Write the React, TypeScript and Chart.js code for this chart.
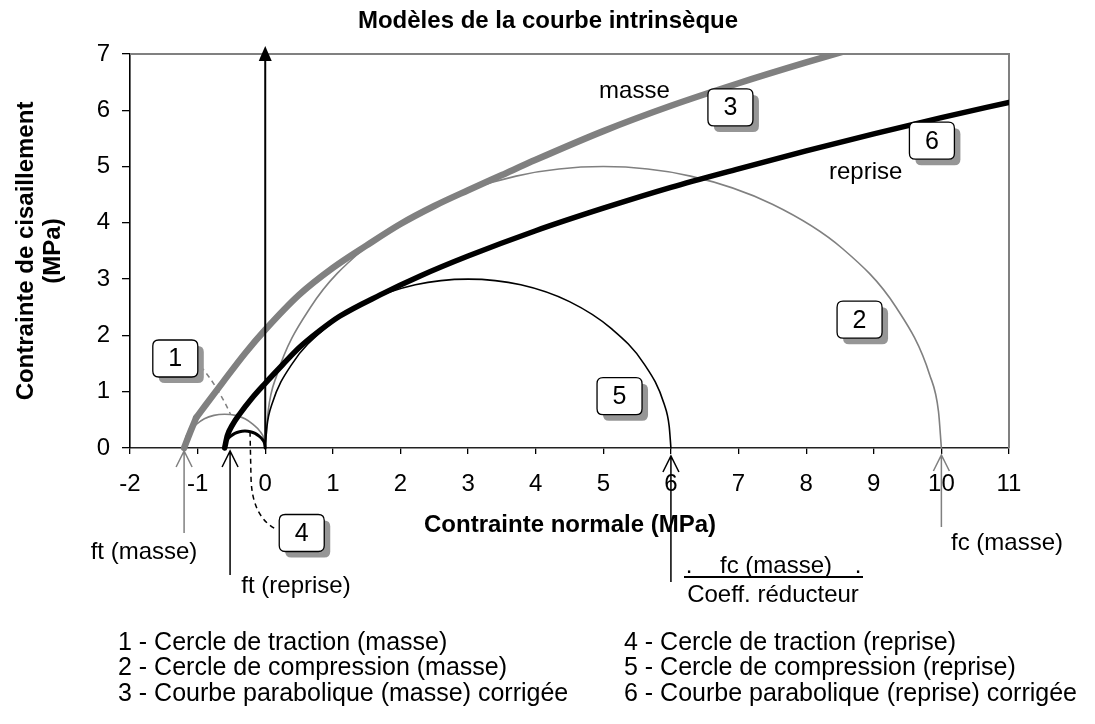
import React, { useEffect, useRef } from "react";
import { Chart, registerables } from "chart.js";

Chart.register(...registerables);

const FONT = "'Liberation Sans', Arial, Helvetica, sans-serif";

// ---------------- data ----------------
const xTickLabels = ["-2", "-1", "0", "1", "2", "3", "4", "5", "6", "7", "8", "9", "10", "11"];
const yTickLabels = ["0", "1", "2", "3", "4", "5", "6", "7"];

// 1 - Cercle de traction (masse)
const circle1X = [-1.2, -1.18, -1.12, -1.02, -0.9, -0.76, -0.6, -0.44, -0.3, -0.18, -0.08, -0.02, 0];
const circle1Y = [0, 0.16, 0.3, 0.42, 0.52, 0.58, 0.6, 0.58, 0.52, 0.42, 0.3, 0.16, 0];
// 2 - Cercle de compression (masse)
const circle2X = [0, 0.043, 0.17, 0.67, 1.46, 2.5, 3.71, 5, 6.29, 7.5, 8.54, 9.33, 9.83, 9.957, 10];
const circle2Y = [0, 0.65, 1.29, 2.5, 3.54, 4.33, 4.83, 5, 4.83, 4.33, 3.54, 2.5, 1.29, 0.65, 0];
// 3 - Courbe parabolique (masse) corrigée
const curve3CorrX = [-1.2, -1.11, -1.02];
const curve3CorrY = [0, 0.28, 0.54];
const curve3X = [-1.02, -0.62, -0.3, 0, 0.5, 1, 1.5, 2, 2.5, 3, 3.5, 4, 5, 6, 7, 8, 9];
const curve3Y = [0.54, 1.18, 1.68, 2.1, 2.72, 3.2, 3.6, 3.98, 4.3, 4.58, 4.85, 5.12, 5.63, 6.08, 6.48, 6.85, 7.2];
// 4 - Cercle de traction (reprise)
const circle4X = [-0.6, -0.59, -0.56, -0.51, -0.45, -0.38, -0.3, -0.22, -0.15, -0.09, -0.04, -0.01, 0];
const circle4Y = [0, 0.08, 0.15, 0.21, 0.26, 0.29, 0.3, 0.29, 0.26, 0.21, 0.15, 0.08, 0];
// 5 - Cercle de compression (reprise)
const circle5X = [0, 0.026, 0.1, 0.4, 0.88, 1.5, 2.22, 3, 3.78, 4.5, 5.12, 5.6, 5.9, 5.974, 6];
const circle5Y = [0, 0.39, 0.78, 1.5, 2.12, 2.6, 2.9, 3, 2.9, 2.6, 2.12, 1.5, 0.78, 0.39, 0];
// 6 - Courbe parabolique (reprise) corrigée
const curve6X = [-0.6, -0.56, -0.48, -0.38, -0.2, 0, 0.25, 0.5, 0.8, 1.1, 1.7, 2.3, 3, 4, 5, 6, 7, 8, 9, 10, 11];
const curve6Y = [0, 0.22, 0.42, 0.6, 0.88, 1.15, 1.47, 1.78, 2.08, 2.34, 2.72, 3.06, 3.41, 3.86, 4.26, 4.63, 4.96, 5.28, 5.58, 5.87, 6.14];

// characteristic stresses marked below the axis
const ftMasse = -1.2;
const ftReprise = -0.52;
const fcReduit = 6;
const fcMasse = 10;

const legendLeft = [
  "1 - Cercle de traction (masse)",
  "2 - Cercle de compression (masse)",
  "3 - Courbe parabolique (masse) corrigée",
];
const legendRight = [
  "4 - Cercle de traction (reprise)",
  "5 - Cercle de compression (reprise)",
  "6 - Courbe parabolique (reprise) corrigée",
];

const zip = (xs: number[], ys: number[]) => xs.map((x, i) => ({ x, y: ys[i] }));

// ---------------- layout / styles ----------------
const GREY = "#808080";
const callouts = [
  { t: "3", x: 6.88, y: 6.05 },
  { t: "6", x: 9.86, y: 5.46 },
  { t: "2", x: 8.79, y: 2.28 },
  { t: "5", x: 5.24, y: 0.92 },
  { t: "1", x: -1.33, y: 1.59 },
  { t: "4", x: 0.54, y: -1.51 },
];

function roundRect(ctx: CanvasRenderingContext2D, x: number, y: number, w: number, h: number, r: number) {
  ctx.beginPath();
  ctx.moveTo(x + r, y);
  ctx.lineTo(x + w - r, y);
  ctx.quadraticCurveTo(x + w, y, x + w, y + r);
  ctx.lineTo(x + w, y + h - r);
  ctx.quadraticCurveTo(x + w, y + h, x + w - r, y + h);
  ctx.lineTo(x + r, y + h);
  ctx.quadraticCurveTo(x, y + h, x, y + h - r);
  ctx.lineTo(x, y + r);
  ctx.quadraticCurveTo(x, y, x + r, y);
  ctx.closePath();
}

function text(ctx: CanvasRenderingContext2D, s: string, x: number, y: number, align: CanvasTextAlign = "center", bold = false, size = 24) {
  ctx.font = `${bold ? "bold " : ""}${size}px ${FONT}`;
  ctx.fillStyle = "#000";
  ctx.textAlign = align;
  ctx.textBaseline = "middle";
  ctx.fillText(s, x, y);
}

function openArrow(ctx: CanvasRenderingContext2D, x: number, tip: number, end: number, color: string) {
  ctx.strokeStyle = color;
  ctx.lineWidth = 1.5;
  ctx.beginPath();
  ctx.moveTo(x, tip);
  ctx.lineTo(x, end);
  ctx.moveTo(x - 8, tip + 16);
  ctx.lineTo(x, tip);
  ctx.lineTo(x + 8, tip + 16);
  ctx.stroke();
}

const overlay = {
  id: "overlay",
  beforeDatasetsDraw(chart: any) {
    const { ctx, chartArea: a } = chart;
    ctx.save();
    ctx.strokeStyle = GREY;
    ctx.lineWidth = 2;
    ctx.beginPath();
    ctx.moveTo(a.left, a.top);
    ctx.lineTo(a.right, a.top);
    ctx.lineTo(a.right, a.bottom);
    ctx.stroke();
    ctx.restore();
  },
  afterDatasetsDraw(chart: any) {
    const { ctx } = chart;
    const xs = chart.scales.x;
    const ys = chart.scales.y;
    const px = (v: number) => xs.getPixelForValue(v);
    const py = (v: number) => ys.getPixelForValue(v);
    ctx.save();

    // vertical axis arrow at sigma = 0
    const x0 = px(0);
    const tip = ys.top - 8;
    ctx.strokeStyle = "#000";
    ctx.lineWidth = 2;
    ctx.beginPath();
    ctx.moveTo(x0, py(0));
    ctx.lineTo(x0, tip + 10);
    ctx.stroke();
    ctx.fillStyle = "#000";
    ctx.beginPath();
    ctx.moveTo(x0, tip);
    ctx.lineTo(x0 - 6.5, tip + 15);
    ctx.lineTo(x0 + 6.5, tip + 15);
    ctx.closePath();
    ctx.fill();

    // dashed connectors
    ctx.setLineDash([5, 4]);
    ctx.lineWidth = 1.5;
    ctx.strokeStyle = GREY;
    const c1 = callouts[4];
    const b1x = px(c1.x) + 22.5;
    const b1y = py(c1.y) + 8;
    const e1x = px(-0.51);
    const e1y = py(0.59);
    ctx.beginPath();
    ctx.moveTo(b1x + 3, b1y);
    ctx.quadraticCurveTo(b1x + 20, b1y + 20, e1x, e1y);
    ctx.stroke();

    ctx.strokeStyle = "#000";
    const s4x = px(-0.225);
    const s4y = py(0.29);
    const c4 = callouts[5];
    const b4x = px(c4.x) - 24;
    const b4y = py(c4.y) - 3;
    ctx.beginPath();
    ctx.moveTo(s4x, s4y);
    ctx.lineTo(s4x + 1, b4y - 52);
    ctx.quadraticCurveTo(s4x + 2, b4y - 12, b4x, b4y);
    ctx.stroke();
    ctx.setLineDash([]);

    // callout boxes
    const W = 45, H = 37;
    for (const c of callouts) {
      const cx = px(c.x), cy = py(c.y);
      ctx.fillStyle = "#969696";
      roundRect(ctx, cx - W / 2 + 6, cy - H / 2 + 6, W, H, 6);
      ctx.fill();
      ctx.fillStyle = "#fff";
      roundRect(ctx, cx - W / 2, cy - H / 2, W, H, 6);
      ctx.fill();
      ctx.strokeStyle = "#000";
      ctx.lineWidth = 1.3;
      ctx.stroke();
      text(ctx, c.t, cx, cy + 1, "center", false, 25);
    }

    // curve labels
    text(ctx, "masse", px(5.46), py(6.33));
    text(ctx, "reprise", px(8.88), py(4.9));

    // arrows below the axis
    const y0 = py(0);
    openArrow(ctx, px(ftMasse), y0 + 3, y0 + 85, GREY);
    openArrow(ctx, px(ftReprise), y0 + 3, y0 + 127, "#000");
    openArrow(ctx, px(fcReduit), y0 + 8, y0 + 134, "#000");
    openArrow(ctx, px(fcMasse), y0 + 7, y0 + 79, GREY);

    text(ctx, "ft (masse)", 144, 552);
    text(ctx, "ft (reprise)", 296, 586);
    text(ctx, "fc (masse)", 1007, 543);
    text(ctx, ".", 689, 566);
    text(ctx, "fc (masse)", 776, 566);
    text(ctx, ".", 858, 566);
    ctx.strokeStyle = "#000";
    ctx.lineWidth = 2;
    ctx.beginPath();
    ctx.moveTo(684, 577);
    ctx.lineTo(863, 577);
    ctx.stroke();
    text(ctx, "Coeff. réducteur", 773, 595);

    // titles
    text(ctx, "Modèles de la courbe intrinsèque", 548, 21, "center", true);
    text(ctx, "Contrainte normale (MPa)", 570, 525, "center", true);
    ctx.save();
    ctx.font = `bold 24px ${FONT}`;
    ctx.textAlign = "center";
    ctx.textBaseline = "alphabetic";
    ctx.fillStyle = "#000";
    const midY = (ys.top + ys.bottom) / 2;
    ctx.translate(33, midY);
    ctx.rotate(-Math.PI / 2);
    ctx.fillText("Contrainte de cisaillement", 0, 0);
    ctx.restore();
    ctx.save();
    ctx.font = `bold 24px ${FONT}`;
    ctx.textAlign = "center";
    ctx.textBaseline = "alphabetic";
    ctx.fillStyle = "#000";
    ctx.translate(60, midY);
    ctx.rotate(-Math.PI / 2);
    ctx.fillText("(MPa)", 0, 0);
    ctx.restore();

    // legend text
    legendLeft.forEach((s, i) => text(ctx, s, 118, 643 + i * 25.5, "left", false, 25));
    legendRight.forEach((s, i) => text(ctx, s, 624, 643 + i * 25.5, "left", false, 25));

    ctx.restore();
  },
};

const line = (xs: number[], ys: number[], color: string, width: number) => ({
  data: zip(xs, ys),
  showLine: true,
  borderColor: color,
  backgroundColor: color,
  borderWidth: width,
  pointRadius: 0,
  pointHoverRadius: 0,
  fill: false,
  cubicInterpolationMode: "monotone" as const,
  borderCapStyle: "round" as const,
  borderJoinStyle: "round" as const,
  clip: { left: 6, top: 0, right: 0, bottom: 6 },
});

export default function App() {
  const ref = useRef<HTMLCanvasElement>(null);
  useEffect(() => {
    const canvas = ref.current!;
    const chart = new Chart(canvas, {
      type: "scatter",
      data: {
        datasets: [
          line(curve6X, curve6Y, "#000", 5.5),
          line(curve3X, curve3Y, GREY, 6.5),
          line(curve3CorrX, curve3CorrY, GREY, 6.5),
          line(circle4X, circle4Y, "#000", 3),
          line(circle5X, circle5Y, "#000", 1.6),
          line(circle1X, circle1Y, GREY, 1.6),
          line(circle2X, circle2Y, GREY, 1.6),
        ] as any,
      },
      options: {
        responsive: false,
        animation: false,
        devicePixelRatio: 1,
        layout: { padding: { left: 0, top: 54, right: 86, bottom: 0 } },
        plugins: { legend: { display: false }, title: { display: false }, tooltip: { enabled: false } },
        events: [],
        scales: {
          x: {
            type: "linear",
            min: -2,
            max: 11,
            afterFit: (s: any) => {
              s.height = 276;
            },
            afterBuildTicks: (s: any) => {
              s.ticks = xTickLabels.map((l) => ({ value: Number(l) }));
            },
            ticks: {
              callback: (v: any) => xTickLabels[xTickLabels.indexOf(String(v))] ?? "",
              font: { size: 24, family: FONT },
              color: "#000",
              padding: 16,
              maxRotation: 0,
              autoSkip: false,
            },
            grid: { drawOnChartArea: false, drawTicks: true, tickLength: 6, color: "#000", lineWidth: 1.3 },
            border: { color: "#222", width: 1.6 },
          },
          y: {
            type: "linear",
            min: 0,
            max: 7,
            afterFit: (s: any) => {
              s.width = 130;
            },
            afterBuildTicks: (s: any) => {
              s.ticks = yTickLabels.map((l) => ({ value: Number(l) }));
            },
            ticks: {
              callback: (v: any) => yTickLabels[yTickLabels.indexOf(String(v))] ?? "",
              font: { size: 24, family: FONT },
              color: "#000",
              padding: 12,
              autoSkip: false,
            },
            grid: { drawOnChartArea: false, drawTicks: true, tickLength: 8, color: "#000", lineWidth: 1.3 },
            border: { color: "#000", width: 1.6 },
          },
        },
      },
      plugins: [overlay],
    });
    return () => chart.destroy();
  }, []);
  return (
    <div style={{ position: "fixed", left: 0, top: 0, width: 1095, height: 724, background: "#fff" }}>
      <canvas ref={ref} width={1095} height={724} style={{ display: "block", width: 1095, height: 724 }} />
    </div>
  );
}
